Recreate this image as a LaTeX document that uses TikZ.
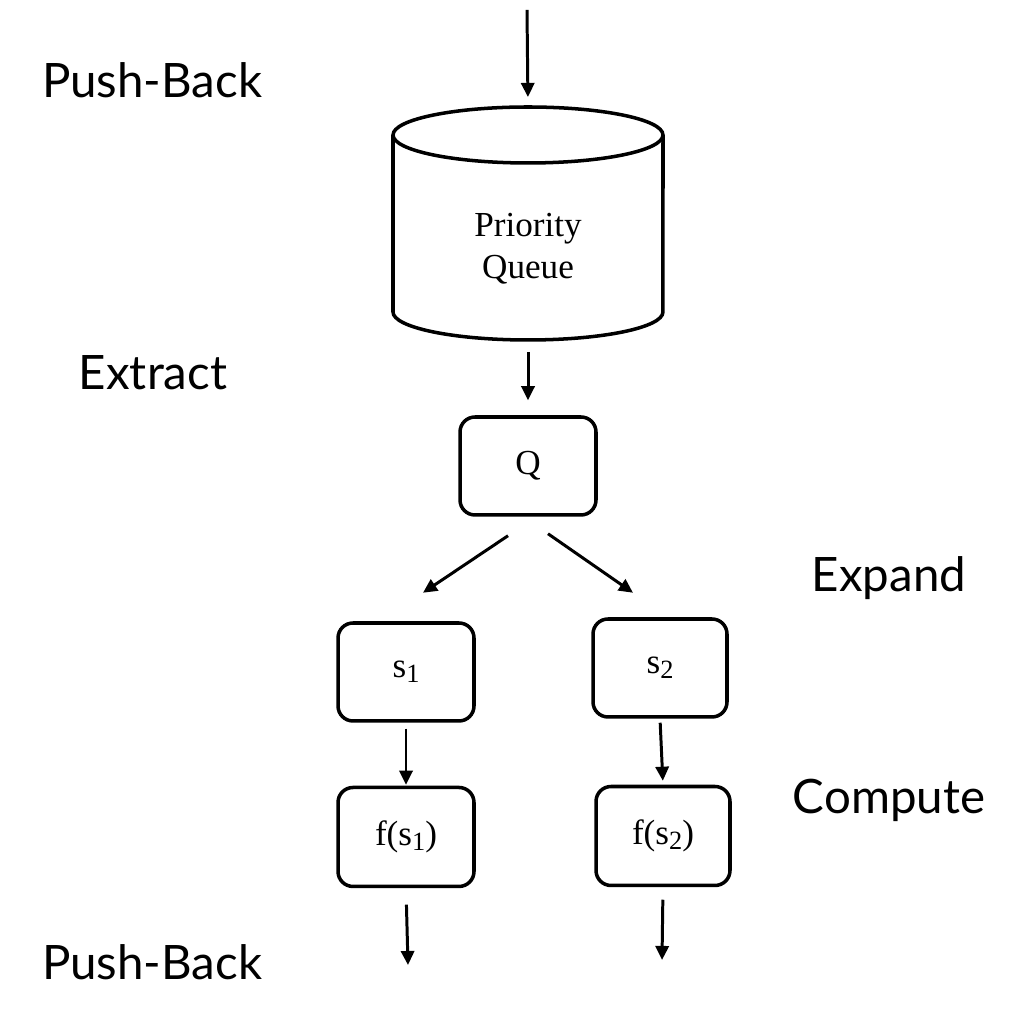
\documentclass[tikz,border=0pt]{standalone}
\usepackage{fontspec}
\setmainfont{Liberation Serif}
\newfontfamily\phasefont{Lato}
\newcommand{\idx}[1]{\raisebox{-0.32ex}{\fontsize{15}{15}\selectfont #1}}
\usetikzlibrary{arrows.meta}
\usetikzlibrary{positioning}

\begin{document}
\begin{tikzpicture}[x=0.02cm, y=0.02cm]
          \tikzstyle{box}=[draw, line width=2pt, rounded corners=0.3cm, minimum width=2.72cm, minimum height=1.96cm, font=\fontsize{20}{24}\selectfont]
          \tikzstyle{arr}=[line width=1.7pt, -{Triangle[length=8pt,width=7.5pt]}]
          \tikzstyle{phase}=[font=\phasefont\fontsize{27}{32}\selectfont]
          \useasboundingbox (0,0) rectangle (1020,1024);
          % priority queue drum
          \draw[line width=2pt] (528,889) ellipse [x radius=2.7cm, y radius=0.56cm];
          \draw[line width=2pt] (393,889) -- (393,712) arc[start angle=180, end angle=360, x radius=2.7cm, y radius=0.56cm] -- (663,889);
          \node[align=center, font=\fontsize{20}{24}\selectfont] (pq) at (528,775) {Priority\\Queue};
          \coordinate (pqtop) at (528,917);
          \coordinate (pqbot) at (528,684);
          \coordinate (in) at (527,1014);
          \node[box] (Q) at (528,558) {Q};
          \node[box] (s1) at (406,352) {s\idx{1}};
          \node[box, minimum width=2.68cm] (s2) at (660,356) {s\idx{2}};
          \node[box, minimum height=1.98cm] (f1) [below=1.26cm of s1] {f(s\idx{1})};
          \node[box, minimum width=2.68cm, minimum height=1.98cm] (f2) at (663,188) {f(s\idx{2})};
          \coordinate (out1) at (408,59);
          \coordinate (out2) at (662,64);
          \draw[arr, shorten >=0.2cm] (in) -- (pqtop);
          \draw[arr, shorten <=0.24cm, shorten >=0.3cm] (pqbot) -- (Q.north);
          \draw[arr] ([xshift=-0.4cm,yshift=-0.38cm]Q.south) -- ([xshift=0.34cm,yshift=0.57cm]s1.north);
          \draw[arr] ([xshift=0.4cm,yshift=-0.34cm]Q.south) -- ([xshift=-0.54cm,yshift=0.49cm]s2.north);
          \draw[arr, shorten <=0.12cm, shorten >=0.02cm] (s1.south) -- (f1.north);
          \draw[arr, shorten <=0.08cm, shorten >=0.08cm] (s2.south) -- (f2.north);
          \draw[arr, shorten <=0.33cm] (f1.south) -- (out1);
          \draw[arr, shorten <=0.25cm] (f2.south) -- (out2);
          % phase names
          \node[phase] (pb1) at (152,944) {Push-Back};
          \node[phase] (ex) at (153,651) {Extract};
          \node[phase] (exp) at (889,446) {Expand};
          \node[phase] (cmp) at (889,224) {Compute};
          \node[phase] (pb2) at (152,62) {Push-Back};
        \end{tikzpicture}
\end{document}
